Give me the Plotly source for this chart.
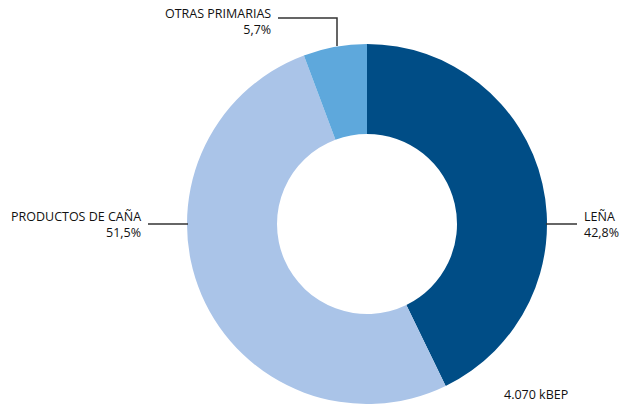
import plotly.graph_objects as go

# Primary energy sources, share of total (%)
labels = ["LEÑA", "PRODUCTOS DE CAÑA", "OTRAS PRIMARIAS"]
shares = [42.8, 51.5, 5.7]
colors = ["#004d86", "#aac4e8", "#5ea8dc"]
total_label = "4.070 kBEP"

W, H = 620, 404
cx, cy, r = 367, 224, 180  # pie centre and outer radius in pixels


def px(x):
    return x / W


def py(y):
    return 1 - y / H


def pct(v):
    return f"{v:.1f}".replace(".", ",") + "%"


fig = go.Figure(
    go.Pie(
        labels=labels,
        values=shares,
        hole=0.5,
        sort=False,
        direction="clockwise",
        rotation=0,
        marker=dict(colors=colors, line=dict(width=0)),
        textinfo="none",
        hoverinfo="label+percent",
        showlegend=False,
        domain=dict(x=[px(cx - r), px(cx + r)], y=[py(cy + r), py(cy - r)]),
    )
)

font = dict(family="Open Sans, Noto Sans, sans-serif", size=12.5, color="#111111")
line = dict(color="#333333", width=1.5)

annotations = [
    # OTRAS PRIMARIAS
    dict(x=px(273), y=py(21), text=f"{labels[2]}<br>{pct(shares[2])}", xanchor="right", yanchor="middle", align="right"),
    # PRODUCTOS DE CAÑA
    dict(x=px(143), y=py(224), text=f"{labels[1]}<br>{pct(shares[1])}", xanchor="right", yanchor="middle", align="right"),
    # LEÑA
    dict(x=px(582), y=py(224), text=f"{labels[0]}<br>{pct(shares[0])}", xanchor="left", yanchor="middle", align="left"),
    # total
    dict(x=px(536), y=py(394), text=total_label, xanchor="center", yanchor="middle", align="center"),
]
for a in annotations:
    a.update(xref="paper", yref="paper", showarrow=False, font=font)

shapes = [
    dict(type="path", path=f"M {px(278)},{py(18)} L {px(337)},{py(18)} L {px(337)},{py(46)}"),
    dict(type="line", x0=px(148), y0=py(224), x1=px(188), y1=py(224)),
    dict(type="line", x0=px(546), y0=py(224), x1=px(577), y1=py(224)),
]
for s in shapes:
    s.update(xref="paper", yref="paper", line=line)

fig.update_layout(
    width=W,
    height=H,
    margin=dict(l=0, r=0, t=0, b=0),
    paper_bgcolor="white",
    plot_bgcolor="white",
    annotations=annotations,
    shapes=shapes,
)

fig.write_html("out.html")
